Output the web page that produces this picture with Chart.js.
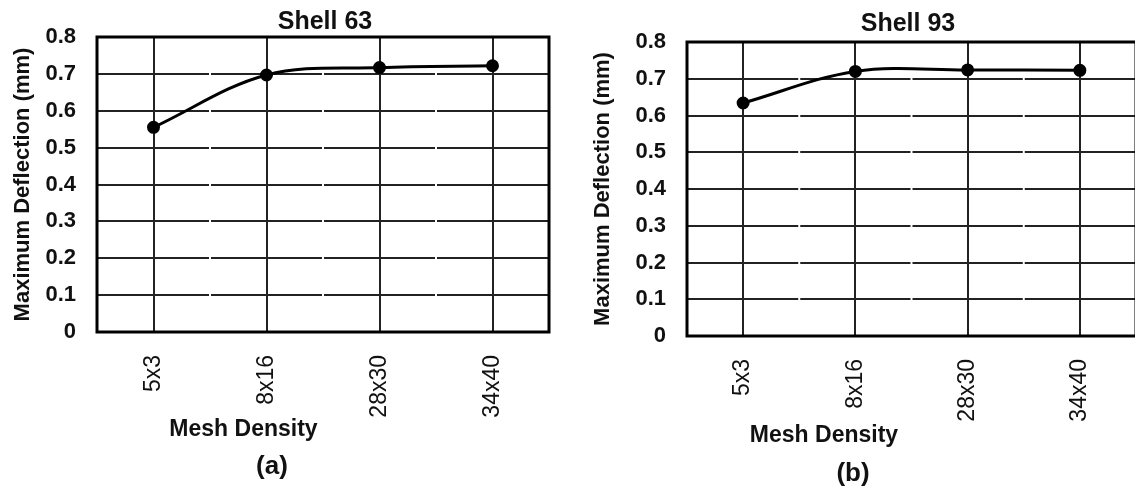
<!DOCTYPE html>
<html>
<head>
<meta charset="utf-8">
<script src="https://cdn.jsdelivr.net/npm/chart.js@4/dist/chart.umd.min.js"></script>
<style>
  html, body { margin: 0; padding: 0; background: #fff; width: 1135px; height: 488px; overflow: hidden; position: relative; }
  .panel { position: absolute; top: 0; height: 488px; }
</style>
</head>
<body>
<div class="panel" style="left:0;width:650px"><canvas id="shell63" width="650" height="488"></canvas></div>
<div class="panel" style="left:567px;width:682px"><canvas id="shell93" width="682" height="488"></canvas></div>
<script>
// Mesh density study: maximum deflection (mm) for two shell element types
const meshDensity = ['5x3', '8x16', '28x30', '34x40'];
const shell63Deflection = [0.555, 0.697, 0.717, 0.722];
const shell93Deflection = [0.634, 0.720, 0.724, 0.723];
const deflectionTicks = ['0', '0.1', '0.2', '0.3', '0.4', '0.5', '0.6', '0.7', '0.8'];

const FONT = "'Liberation Sans', Arial, sans-serif";
const INK = '#111';

// Thick rectangle round the plot area
const plotFrame = {
  id: 'plotFrame',
  beforeDatasetsDraw(chart, args, opts) {
    const { ctx, chartArea: a } = chart;
    ctx.save();
    ctx.strokeStyle = opts.color;
    ctx.lineWidth = opts.width;
    ctx.strokeRect(a.left, a.top, a.right - a.left, a.bottom - a.top);
    ctx.restore();
  }
};

// Axis caption and panel tag under the plot
const captions = {
  id: 'captions',
  afterDraw(chart, args, opts) {
    const { ctx } = chart;
    ctx.save();
    ctx.fillStyle = opts.color;
    ctx.textAlign = 'center';
    ctx.textBaseline = 'middle';
    for (const c of opts.items) {
      ctx.font = c.font;
      ctx.fillText(c.text, c.x, c.y);
    }
    ctx.restore();
  }
};

function makeChart(id, title, values, cfg) {
  return new Chart(document.getElementById(id), {
    type: 'line',
    data: {
      labels: meshDensity,
      datasets: [{
        data: values,
        borderColor: '#000',
        backgroundColor: '#000',
        borderWidth: 3,
        pointRadius: 5,
        pointHoverRadius: 5,
        pointBackgroundColor: '#000',
        pointBorderColor: '#000',
        tension: 0.35,
        fill: false
      }]
    },
    options: {
      responsive: false,
      animation: false,
      devicePixelRatio: 1,
      layout: { padding: 0 },
      plugins: {
        legend: { display: false },
        tooltip: { enabled: false },
        title: {
          display: true,
          text: title,
          color: INK,
          font: { family: FONT, size: 25, weight: 'bold', lineHeight: 1.2 },
          padding: { top: cfg.titleTop, bottom: cfg.titleBottom }
        },
        plotFrame: { color: '#000', width: 3 },
        captions: {
          color: INK,
          items: [
            { text: 'Mesh Density', x: cfg.axisX, y: cfg.axisY, font: "bold 23px " + FONT },
            { text: cfg.tag, x: cfg.tagX, y: cfg.tagY, font: "bold 26px " + FONT }
          ]
        }
      },
      scales: {
        x: {
          type: 'category',
          offset: true,
          grid: { offset: false, color: '#222', lineWidth: 2, drawTicks: false },
          border: { display: false },
          ticks: {
            color: INK,
            minRotation: 90,
            maxRotation: 90,
            padding: 23,
            font: { family: FONT, size: 23 }
          },
          afterFit(scale) { scale.height = cfg.xHeight; }
        },
        y: {
          min: 0,
          max: 0.8,
          grid: { color: '#222', lineWidth: 2, drawTicks: false },
          border: {
            display: false,
            dash(ctx) {
              const xs = ctx.chart.scales.x;
              const step = xs ? xs.width / meshDensity.length : 113;
              return [step - 2, 2];
            },
            dashOffset: -1
          },
          ticks: {
            stepSize: 0.1,
            color: INK,
            padding: 21,
            font: { family: FONT, size: 22, weight: 'bold' },
            callback: (v, i) => deflectionTicks[i]
          },
          title: {
            display: true,
            text: 'Maximum Deflection (mm)',
            color: INK,
            font: { family: FONT, size: 22, weight: 'bold', lineHeight: 1.2 },
            padding: { top: cfg.yTitlePad, bottom: 0 }
          },
          afterFit(scale) { scale.width = cfg.yWidth; }
        },
        // empty right-hand margin so the title centres over the whole panel
        margin: {
          type: 'linear',
          position: 'right',
          grid: { display: false },
          border: { display: false },
          ticks: { display: false },
          afterFit(scale) { scale.width = cfg.marginRight; }
        }
      }
    },
    plugins: [plotFrame, captions]
  });
}

makeChart('shell63', 'Shell 63', shell63Deflection, {
  marginRight: 101, titleTop: 7, titleBottom: 0, xHeight: 156,
  yWidth: 97, yTitlePad: 10,
  axisX: 243.5, axisY: 430, tag: '(a)', tagX: 272, tagY: 467
});

makeChart('shell93', 'Shell 93', shell93Deflection, {
  marginRight: 113, titleTop: 9, titleBottom: 3, xHeight: 152,
  yWidth: 120, yTitlePad: 23,
  axisX: 257, axisY: 436, tag: '(b)', tagX: 286, tagY: 474
});
</script>
</body>
</html>
